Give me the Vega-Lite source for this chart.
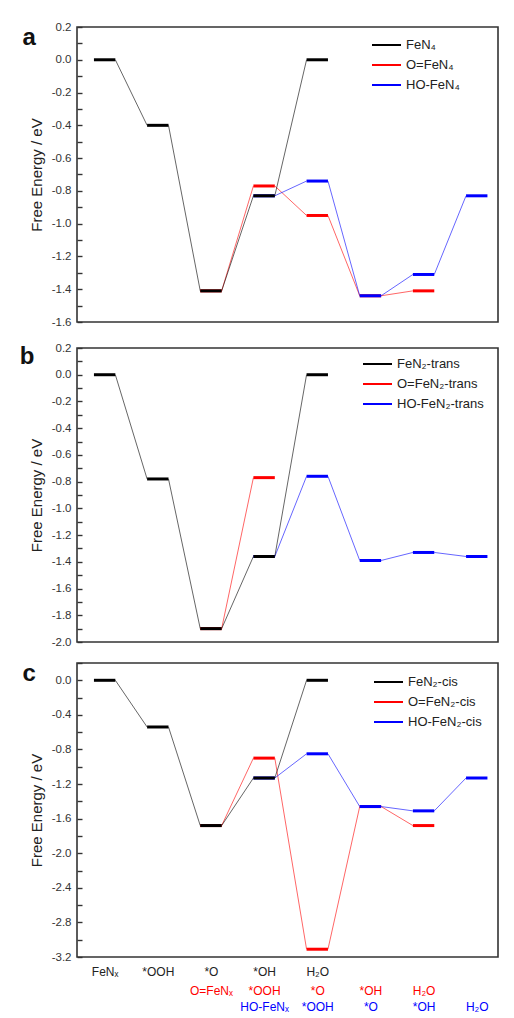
{
  "$schema": "https://vega.github.io/schema/vega-lite/v6.json",
  "background": "white",
  "padding": {"left": 19, "top": 20, "right": 0, "bottom": 0},
  "spacing": 12,
  "config": {
    "font": "Liberation Sans",
    "view": {"stroke": "#333333", "strokeWidth": 1.6},
    "axisY": {"domain": false, "grid": false, "tickSize": -5, "tickWidth": 1.4, "tickColor": "#333333", "labelFontSize": 11.5, "labelColor": "#333333", "labelPadding": 11, "titleFontSize": 15, "titleFontWeight": "normal", "titleColor": "#222222", "titlePadding": 7},
    "legend": {"orient": "none", "title": null, "symbolType": "M-2.07,0H2.07", "symbolSize": 196, "symbolStrokeWidth": 2, "symbolOpacity": 1, "labelFontSize": 13, "labelColor": "#222222", "rowPadding": 5, "labelOffset": 11.5},
    "title": {"fontSize": 24, "fontWeight": "bold", "color": "#111111"}
  },
  "datasets": {
    "levels": [
      {"panel": "a", "series": "O=FeN₄", "step": 3, "energy": -1.41},
      {"panel": "a", "series": "O=FeN₄", "step": 4, "energy": -0.77},
      {"panel": "a", "series": "O=FeN₄", "step": 5, "energy": -0.95},
      {"panel": "a", "series": "O=FeN₄", "step": 6, "energy": -1.44},
      {"panel": "a", "series": "O=FeN₄", "step": 7, "energy": -1.41},
      {"panel": "a", "series": "HO-FeN₄", "step": 4, "energy": -0.83},
      {"panel": "a", "series": "HO-FeN₄", "step": 5, "energy": -0.74},
      {"panel": "a", "series": "HO-FeN₄", "step": 6, "energy": -1.44},
      {"panel": "a", "series": "HO-FeN₄", "step": 7, "energy": -1.31},
      {"panel": "a", "series": "HO-FeN₄", "step": 8, "energy": -0.83},
      {"panel": "a", "series": "FeN₄", "step": 1, "energy": 0.0},
      {"panel": "a", "series": "FeN₄", "step": 2, "energy": -0.40},
      {"panel": "a", "series": "FeN₄", "step": 3, "energy": -1.41},
      {"panel": "a", "series": "FeN₄", "step": 4, "energy": -0.83},
      {"panel": "a", "series": "FeN₄", "step": 5, "energy": 0.0},
      {"panel": "b", "series": "O=FeN₂-trans", "step": 3, "energy": -1.90},
      {"panel": "b", "series": "O=FeN₂-trans", "step": 4, "energy": -0.77},
      {"panel": "b", "series": "HO-FeN₂-trans", "step": 4, "energy": -1.36},
      {"panel": "b", "series": "HO-FeN₂-trans", "step": 5, "energy": -0.76},
      {"panel": "b", "series": "HO-FeN₂-trans", "step": 6, "energy": -1.39},
      {"panel": "b", "series": "HO-FeN₂-trans", "step": 7, "energy": -1.33},
      {"panel": "b", "series": "HO-FeN₂-trans", "step": 8, "energy": -1.36},
      {"panel": "b", "series": "FeN₂-trans", "step": 1, "energy": 0.0},
      {"panel": "b", "series": "FeN₂-trans", "step": 2, "energy": -0.78},
      {"panel": "b", "series": "FeN₂-trans", "step": 3, "energy": -1.90},
      {"panel": "b", "series": "FeN₂-trans", "step": 4, "energy": -1.36},
      {"panel": "b", "series": "FeN₂-trans", "step": 5, "energy": 0.0},
      {"panel": "c", "series": "O=FeN₂-cis", "step": 3, "energy": -1.68},
      {"panel": "c", "series": "O=FeN₂-cis", "step": 4, "energy": -0.90},
      {"panel": "c", "series": "O=FeN₂-cis", "step": 5, "energy": -3.11},
      {"panel": "c", "series": "O=FeN₂-cis", "step": 6, "energy": -1.46},
      {"panel": "c", "series": "O=FeN₂-cis", "step": 7, "energy": -1.68},
      {"panel": "c", "series": "HO-FeN₂-cis", "step": 4, "energy": -1.13},
      {"panel": "c", "series": "HO-FeN₂-cis", "step": 5, "energy": -0.85},
      {"panel": "c", "series": "HO-FeN₂-cis", "step": 6, "energy": -1.46},
      {"panel": "c", "series": "HO-FeN₂-cis", "step": 7, "energy": -1.51},
      {"panel": "c", "series": "HO-FeN₂-cis", "step": 8, "energy": -1.13},
      {"panel": "c", "series": "FeN₂-cis", "step": 1, "energy": 0.0},
      {"panel": "c", "series": "FeN₂-cis", "step": 2, "energy": -0.54},
      {"panel": "c", "series": "FeN₂-cis", "step": 3, "energy": -1.68},
      {"panel": "c", "series": "FeN₂-cis", "step": 4, "energy": -1.13},
      {"panel": "c", "series": "FeN₂-cis", "step": 5, "energy": 0.0}
    ]
  },
  "resolve": {"scale": {"color": "independent"}},
  "vconcat": [
    {
      "width": 421, "height": 295,
      "title": {"text": "a", "orient": "left", "anchor": "end", "angle": 0, "align": "right", "baseline": "top", "offset": -20, "dy": 5},
      "data": {"name": "levels"},
      "transform": [{"filter": "datum.panel == 'a'"}],
      "encoding": {
        "x": {"field": "step", "type": "quantitative", "scale": {"domain": [0.48, 8.4], "nice": false, "zero": false}, "axis": null},
        "y": {"field": "energy", "type": "quantitative", "title": "Free Energy / eV",
              "scale": {"domain": [-1.6, 0.2], "nice": false, "zero": false},
              "axis": {"values": [0.2, 0.1, 0, -0.1, -0.2, -0.3, -0.4, -0.5, -0.6, -0.7, -0.8, -0.9, -1.0, -1.1, -1.2, -1.3, -1.4, -1.5, -1.6],
                       "labelExpr": "abs(round(datum.value*10)) % 2 == 0 ? replace(format(datum.value, '.1f'), '\u2212', '-') : ''"}},
        "color": {"field": "series", "type": "nominal",
                  "scale": {"domain": ["FeN₄", "O=FeN₄", "HO-FeN₄"], "range": ["#000000", "#ff0000", "#0000ff"]},
                  "legend": {"legendX": 301.5, "legendY": 10}}
      },
      "layer": [
        {
          "transform": [
            {"window": [{"op": "lead", "field": "energy", "as": "next"}, {"op": "lead", "field": "step", "as": "nextStep"}], "groupby": ["series"], "sort": [{"field": "step", "order": "ascending"}]},
            {"filter": "datum.nextStep != null"}
          ],
          "mark": {"type": "rule", "strokeWidth": 1, "opacity": 0.6, "xOffset": 10.7, "x2Offset": -10.7},
          "encoding": {"x2": {"field": "nextStep"}, "y2": {"field": "next"}}
        },
        {
          "mark": {"type": "rule", "strokeWidth": 3, "xOffset": -10.7, "x2Offset": 10.7},
          "encoding": {"x2": {"field": "step"}}
        }
      ]
    },
    {
      "width": 421, "height": 294,
      "title": {"text": "b", "orient": "left", "anchor": "end", "angle": 0, "align": "right", "baseline": "top", "offset": -20, "dy": 3},
      "data": {"name": "levels"},
      "transform": [{"filter": "datum.panel == 'b'"}],
      "encoding": {
        "x": {"field": "step", "type": "quantitative", "scale": {"domain": [0.48, 8.4], "nice": false, "zero": false}, "axis": null},
        "y": {"field": "energy", "type": "quantitative", "title": "Free Energy / eV",
              "scale": {"domain": [-2.0, 0.2], "nice": false, "zero": false},
              "axis": {"values": [0.2, 0.1, 0, -0.1, -0.2, -0.3, -0.4, -0.5, -0.6, -0.7, -0.8, -0.9, -1.0, -1.1, -1.2, -1.3, -1.4, -1.5, -1.6, -1.7, -1.8, -1.9, -2.0],
                       "labelExpr": "abs(round(datum.value*10)) % 2 == 0 ? replace(format(datum.value, '.1f'), '\u2212', '-') : ''"}},
        "color": {"field": "series", "type": "nominal",
                  "scale": {"domain": ["FeN₂-trans", "O=FeN₂-trans", "HO-FeN₂-trans"], "range": ["#000000", "#ff0000", "#0000ff"]},
                  "legend": {"legendX": 292.5, "legendY": 8}}
      },
      "layer": [
        {
          "transform": [
            {"window": [{"op": "lead", "field": "energy", "as": "next"}, {"op": "lead", "field": "step", "as": "nextStep"}], "groupby": ["series"], "sort": [{"field": "step", "order": "ascending"}]},
            {"filter": "datum.nextStep != null"}
          ],
          "mark": {"type": "rule", "strokeWidth": 1, "opacity": 0.6, "xOffset": 10.7, "x2Offset": -10.7},
          "encoding": {"x2": {"field": "nextStep"}, "y2": {"field": "next"}}
        },
        {
          "mark": {"type": "rule", "strokeWidth": 3, "xOffset": -10.7, "x2Offset": 10.7},
          "encoding": {"x2": {"field": "step"}}
        }
      ]
    },
    {
      "width": 421, "height": 294,
      "title": {"text": "c", "orient": "left", "anchor": "end", "angle": 0, "align": "right", "baseline": "top", "offset": -20, "dy": 0},
      "data": {"name": "levels"},
      "transform": [{"filter": "datum.panel == 'c'"}],
      "encoding": {
        "x": {"field": "step", "type": "quantitative", "scale": {"domain": [0.48, 8.4], "nice": false, "zero": false}, "axis": null},
        "y": {"field": "energy", "type": "quantitative", "title": "Free Energy / eV",
              "scale": {"domain": [-3.2, 0.2], "nice": false, "zero": false},
              "axis": {"values": [0.2, 0, -0.2, -0.4, -0.6, -0.8, -1.0, -1.2, -1.4, -1.6, -1.8, -2.0, -2.2, -2.4, -2.6, -2.8, -3.0, -3.2],
                       "labelExpr": "abs(round(datum.value*10)) % 4 == 0 ? replace(format(datum.value, '.1f'), '\u2212', '-') : ''"}},
        "color": {"field": "series", "type": "nominal",
                  "scale": {"domain": ["FeN₂-cis", "O=FeN₂-cis", "HO-FeN₂-cis"], "range": ["#000000", "#ff0000", "#0000ff"]},
                  "legend": {"legendX": 303.5, "legendY": 11}}
      },
      "resolve": {"axis": {"x": "independent"}},
      "layer": [
        {
          "transform": [
            {"filter": "datum.series == 'O=FeN₂-cis'"},
            {"window": [{"op": "lead", "field": "energy", "as": "next"}, {"op": "lead", "field": "step", "as": "nextStep"}], "sort": [{"field": "step", "order": "ascending"}]},
            {"filter": "datum.nextStep != null"}
          ],
          "mark": {"type": "rule", "strokeWidth": 1, "opacity": 0.6, "xOffset": 10.7, "x2Offset": -10.7},
          "encoding": {"x2": {"field": "nextStep"}, "y2": {"field": "next"}}
        },
        {
          "transform": [{"filter": "datum.series == 'O=FeN₂-cis'"}],
          "mark": {"type": "rule", "strokeWidth": 3, "xOffset": -10.7, "x2Offset": 10.7},
          "encoding": {
            "x": {"field": "step", "type": "quantitative", "scale": {"domain": [0.48, 8.4], "nice": false, "zero": false},
                  "axis": {"orient": "bottom", "offset": 19, "values": [3, 4, 5, 6, 7], "labelExpr": "['', '', '', 'O=FeNₓ', '*OOH', '*O', '*OH', 'H₂O'][datum.value]",
                           "labelColor": "#ff0000", "labelFontSize": 12, "labelPadding": 9, "ticks": false, "domain": false, "grid": false, "title": null, "labelFlush": false, "labelOverlap": false}},
            "x2": {"field": "step"}
          }
        },
        {
          "transform": [
            {"filter": "datum.series == 'HO-FeN₂-cis'"},
            {"window": [{"op": "lead", "field": "energy", "as": "next"}, {"op": "lead", "field": "step", "as": "nextStep"}], "sort": [{"field": "step", "order": "ascending"}]},
            {"filter": "datum.nextStep != null"}
          ],
          "mark": {"type": "rule", "strokeWidth": 1, "opacity": 0.6, "xOffset": 10.7, "x2Offset": -10.7},
          "encoding": {"x2": {"field": "nextStep"}, "y2": {"field": "next"}}
        },
        {
          "transform": [{"filter": "datum.series == 'HO-FeN₂-cis'"}],
          "mark": {"type": "rule", "strokeWidth": 3, "xOffset": -10.7, "x2Offset": 10.7},
          "encoding": {
            "x": {"field": "step", "type": "quantitative", "scale": {"domain": [0.48, 8.4], "nice": false, "zero": false},
                  "axis": {"orient": "bottom", "offset": 35, "values": [4, 5, 6, 7, 8], "labelExpr": "['', '', '', '', 'HO-FeNₓ', '*OOH', '*O', '*OH', 'H₂O'][datum.value]",
                           "labelColor": "#0000ff", "labelFontSize": 12, "labelPadding": 9, "ticks": false, "domain": false, "grid": false, "title": null, "labelFlush": false, "labelOverlap": false}},
            "x2": {"field": "step"}
          }
        },
        {
          "transform": [
            {"filter": "datum.series == 'FeN₂-cis'"},
            {"window": [{"op": "lead", "field": "energy", "as": "next"}, {"op": "lead", "field": "step", "as": "nextStep"}], "sort": [{"field": "step", "order": "ascending"}]},
            {"filter": "datum.nextStep != null"}
          ],
          "mark": {"type": "rule", "strokeWidth": 1, "opacity": 0.6, "xOffset": 10.7, "x2Offset": -10.7},
          "encoding": {"x2": {"field": "nextStep"}, "y2": {"field": "next"}}
        },
        {
          "transform": [{"filter": "datum.series == 'FeN₂-cis'"}],
          "mark": {"type": "rule", "strokeWidth": 3, "xOffset": -10.7, "x2Offset": 10.7},
          "encoding": {
            "x": {"field": "step", "type": "quantitative", "scale": {"domain": [0.48, 8.4], "nice": false, "zero": false},
                  "axis": {"orient": "bottom", "offset": 0, "values": [1, 2, 3, 4, 5], "labelExpr": "['', 'FeNₓ', '*OOH', '*O', '*OH', 'H₂O'][datum.value]",
                           "labelColor": "#222222", "labelFontSize": 12, "labelPadding": 9, "ticks": false, "domain": false, "grid": false, "title": null, "labelFlush": false, "labelOverlap": false}},
            "x2": {"field": "step"}
          }
        }
      ]
    }
  ]
}
